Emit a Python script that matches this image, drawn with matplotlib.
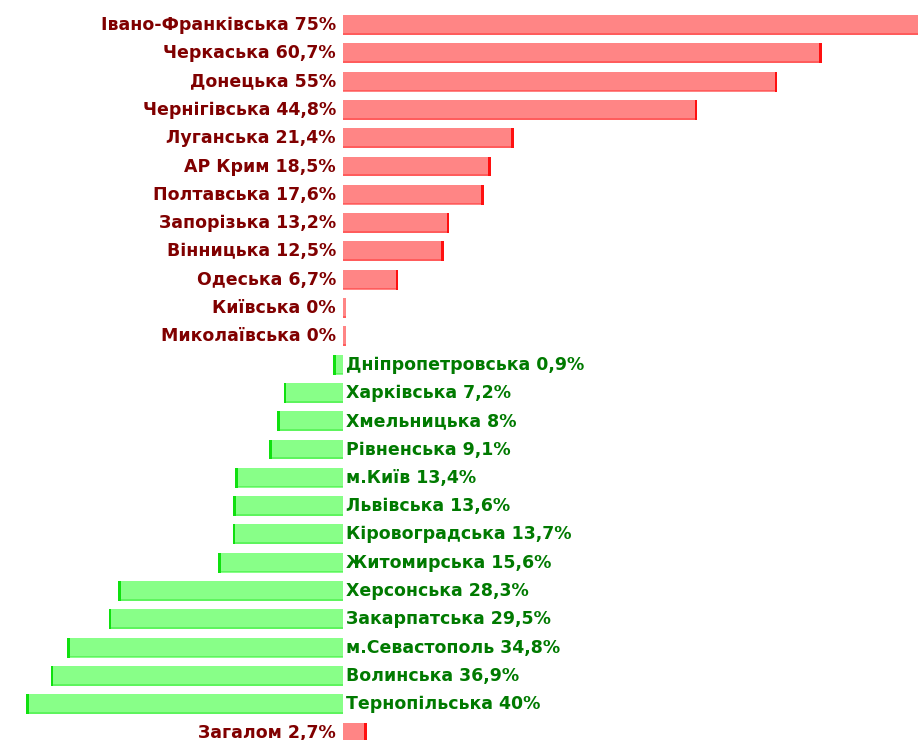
import numpy as np
import matplotlib
matplotlib.use("Agg")
from matplotlib import pyplot as plt

# області, значення у %; знак: + червоні (праворуч), - зелені (ліворуч)
names = ["Івано-Франківська", "Черкаська", "Донецька", "Чернігівська", "Луганська",
         "АР Крим", "Полтавська", "Запорізька", "Вінницька", "Одеська", "Київська",
         "Миколаївська", "Дніпропетровська", "Харківська", "Хмельницька", "Рівненська",
         "м.Київ", "Львівська", "Кіровоградська", "Житомирська", "Херсонська",
         "Закарпатська", "м.Севастополь", "Волинська", "Тернопільська", "Загалом"]
values = [75, 60.7, 55, 44.8, 21.4, 18.5, 17.6, 13.2, 12.5, 6.7, 0, 0,
          -0.9, -7.2, -8, -9.1, -13.4, -13.6, -13.7, -15.6, -28.3, -29.5, -34.8,
          -36.9, -40, 2.7]

def fmt(v):
    s = ("%g" % abs(v)).replace(".", ",")
    return s + "%"

labels = [n + " " + fmt(v) for n, v in zip(names, values)]

red_face, red_tip, red_txt = "#ff8585", "#ff1010", "#800000"
grn_face, grn_tip, grn_txt = "#88ff88", "#10e010", "#007a00"

fig = plt.figure(figsize=(9.18, 7.4), dpi=100)
ax = fig.add_axes([0, 0, 1, 1])

px = 7.85  # пікселів на 1%
x0 = 343
ax.set_xlim(-x0 / px, (918 - x0) / px)
row0, step = 25, 28.3
ax.set_ylim((740 - row0) / step, -row0 / step)

y = np.arange(len(values))
h = 0.7
tip = 0.35
for i, v in enumerate(values):
    neg = v < 0
    face = grn_face if neg else red_face
    edge = grn_tip if neg else red_tip
    w = v if abs(v) > 0.5 else (-0.5 if neg else 0.4)
    ax.barh(y[i], w, height=h, color=face, edgecolor="none")
    if v != 0:
        ax.barh(y[i], -tip if neg else tip, left=w, height=h,
                color=edge, edgecolor="none", align="center")
    # нижня тінь
    ax.barh(y[i] + h / 2 - 0.04, w, height=0.06, color=edge, alpha=0.35,
            edgecolor="none")
    if neg:
        ax.text(0.4, y[i], labels[i], ha="left", va="center", color=grn_txt,
                fontsize=12.5, fontweight="bold", family="DejaVu Sans")
    else:
        ax.text(-0.9, y[i], labels[i], ha="right", va="center", color=red_txt,
                fontsize=12.5, fontweight="bold", family="DejaVu Sans")

ax.axis("off")
fig.savefig("out.png", dpi=100, facecolor="white")
